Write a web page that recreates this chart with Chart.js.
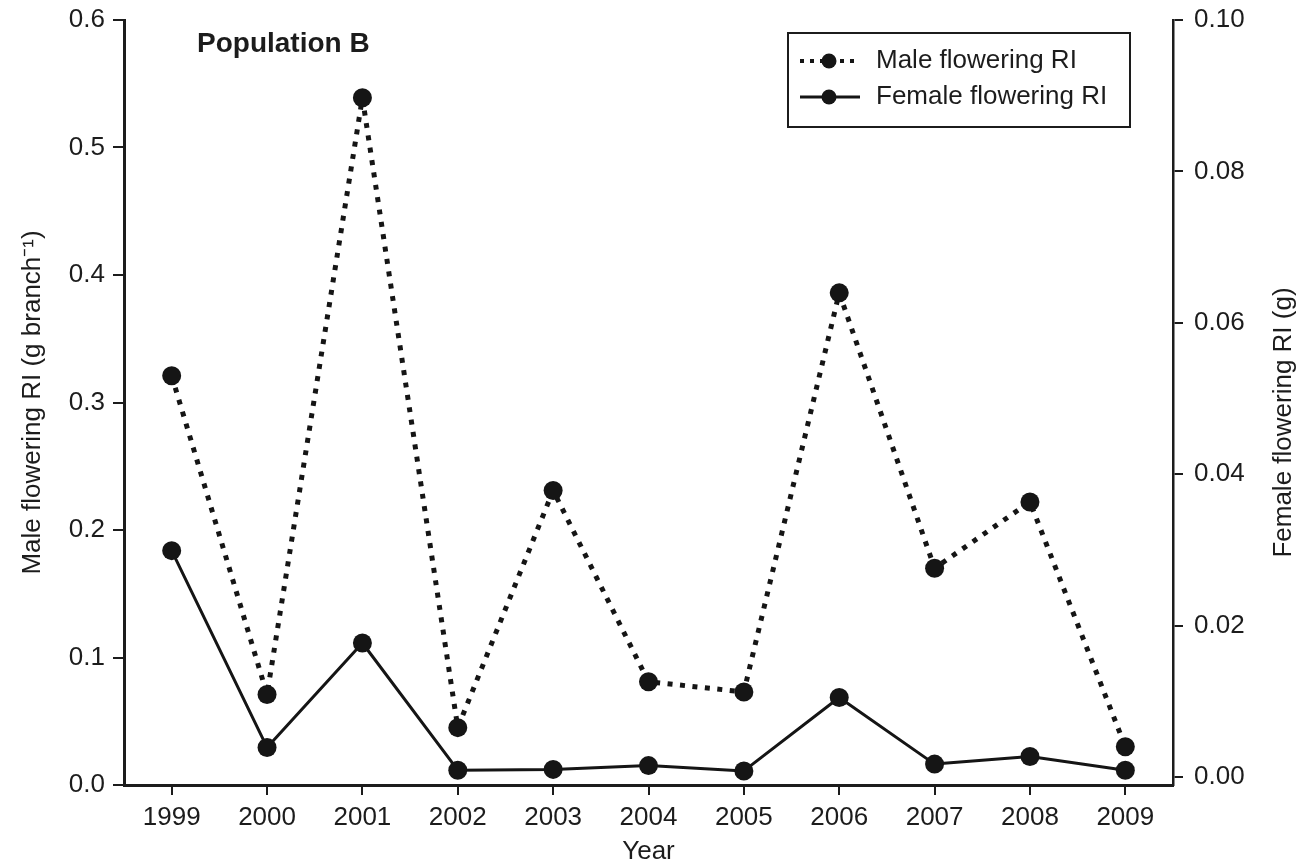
<!DOCTYPE html>
<html>
<head>
<meta charset="utf-8">
<title>Population B</title>
<script src="https://cdn.jsdelivr.net/npm/chart.js@4.4.1/dist/chart.umd.min.js"></script>
<style>
html, body { margin: 0; padding: 0; background: #fff; }
#wrap { width: 1302px; height: 867px; }
</style>
</head>
<body>
<div id="wrap"><canvas id="chart" width="1302" height="867"></canvas></div>
<script>
// values
const years = ['1999', '2000', '2001', '2002', '2003', '2004', '2005', '2006', '2007', '2008', '2009'];
const maleRI = [0.321, 0.071, 0.539, 0.045, 0.231, 0.081, 0.073, 0.386, 0.170, 0.222, 0.030];
const femaleRI = [0.0299, 0.0039, 0.0177, 0.0009, 0.0010, 0.0015, 0.0008, 0.0105, 0.0017, 0.0027, 0.0009];
const maleTicks = [0, 0.1, 0.2, 0.3, 0.4, 0.5, 0.6];
const femaleTicks = [0, 0.02, 0.04, 0.06, 0.08, 0.10];

const panelTitle = 'Population B';
const leftTitle = 'Male flowering RI (g branch\u207B\u00B9)';
const rightTitle = 'Female flowering RI (g)';
const xTitle = 'Year';

const ink = '#1c1c1c';
const fontFamily = '"Liberation Sans", Arial, Helvetica, sans-serif';

Chart.defaults.font.family = fontFamily;
Chart.defaults.color = ink;

function fixedTicks(values)
{
    return (axis) => {
        axis.ticks = values.map((v) => ({ value: v }));
    };
}

// fixed axis widths, and no extra room kept for the end labels
function fitWidth(w)
{
    return (s) => {
        s.width = w;
        s.paddingTop = 0;
        s.paddingBottom = 0;
    };
}

const overlay = {
    id: 'overlay',
    afterDraw(chart)
    {
        const ctx = chart.ctx;
        const area = chart.chartArea;

        ctx.save();
        ctx.fillStyle = ink;
        ctx.textBaseline = 'middle';

        // panel label
        ctx.font = 'bold 28px ' + fontFamily;
        ctx.fillText(panelTitle, area.left + 73, area.top + 24);

        // right axis title, reads bottom to top
        ctx.save();
        ctx.font = '26px ' + fontFamily;
        ctx.translate(chart.width - 18, (area.top + area.bottom) / 2 + 20);
        ctx.rotate(-Math.PI / 2);
        ctx.textAlign = 'center';
        ctx.fillText(rightTitle, 0, 0);
        ctx.restore();

        // legend box
        const bx = area.right - 385;
        const by = area.top + 13;
        ctx.strokeStyle = ink;
        ctx.lineWidth = 2;
        ctx.strokeRect(bx, by, 342, 94);

        ctx.font = '26px ' + fontFamily;
        chart.data.datasets.forEach((ds, i) => {
            const y = by + 28 + i * 36;
            ctx.beginPath();
            ctx.setLineDash(ds.borderDash ? [4, 6] : []);
            ctx.lineWidth = ds.borderDash ? 4 : ds.borderWidth;
            ctx.strokeStyle = ds.borderColor;
            ctx.moveTo(bx + 12, y);
            ctx.lineTo(bx + 72, y);
            ctx.stroke();
            ctx.setLineDash([]);
            ctx.beginPath();
            ctx.arc(bx + 41, y, 7.5, 0, Math.PI * 2);
            ctx.fillStyle = ds.pointBackgroundColor;
            ctx.fill();
            ctx.fillStyle = ink;
            ctx.fillText(ds.label, bx + 88, y);
        });

        ctx.restore();
    }
};

const axisFont = { size: 26 };

new Chart(document.getElementById('chart'), {
    type: 'line',
    data: {
        labels: years,
        datasets: [{
            label: 'Male flowering RI',
            data: maleRI,
            yAxisID: 'yMale',
            borderColor: '#151515',
            borderWidth: 5,
            borderDash: [5, 7.5],
            borderJoinStyle: 'round',
            pointRadius: 9.5,
            pointBackgroundColor: '#151515',
            pointBorderWidth: 0,
            tension: 0
        }, {
            label: 'Female flowering RI',
            data: femaleRI,
            yAxisID: 'yFemale',
            borderColor: '#151515',
            borderWidth: 3,
            borderJoinStyle: 'round',
            pointRadius: 9.5,
            pointBackgroundColor: '#151515',
            pointBorderWidth: 0,
            tension: 0
        }]
    },
    options: {
        responsive: false,
        animation: false,
        devicePixelRatio: 1,
        layout: { padding: { top: 20, left: 0, right: 0, bottom: 0 } },
        plugins: {
            legend: { display: false },
            tooltip: { enabled: false }
        },
        scales: {
            x: {
                type: 'category',
                offset: true,
                afterFit: (s) => { s.height = 82; },
                border: { display: true, color: ink, width: 3 },
                grid: { drawOnChartArea: false, drawTicks: true, tickLength: 10, color: ink, lineWidth: 2 },
                ticks: { font: axisFont, padding: 7, color: ink, maxRotation: 0 },
                title: { display: true, text: xTitle, font: axisFont, color: ink, padding: { top: 0, bottom: 0 } }
            },
            yMale: {
                type: 'linear',
                position: 'left',
                min: 0,
                max: 0.6,
                afterBuildTicks: fixedTicks(maleTicks),
                afterFit: fitWidth(124),
                border: { display: true, color: ink, width: 3 },
                grid: { drawOnChartArea: false, drawTicks: true, tickLength: 11, color: ink, lineWidth: 2 },
                ticks: { font: axisFont, padding: 8, color: ink, callback: (v) => v.toFixed(1) },
                title: { display: true, text: leftTitle, font: axisFont, color: ink, padding: { top: 17, bottom: 0 } }
            },
            yFemale: {
                type: 'linear',
                position: 'right',
                min: -0.00106,
                max: 0.10,
                afterBuildTicks: fixedTicks(femaleTicks),
                afterFit: fitWidth(129),
                border: { display: true, color: ink, width: 2.5 },
                grid: { drawOnChartArea: false, drawTicks: true, tickLength: 10, color: ink, lineWidth: 2 },
                ticks: { font: axisFont, padding: 11, color: ink, callback: (v) => v.toFixed(2) },
                title: { display: false }
            }
        }
    },
    plugins: [overlay]
});
</script>
</body>
</html>
